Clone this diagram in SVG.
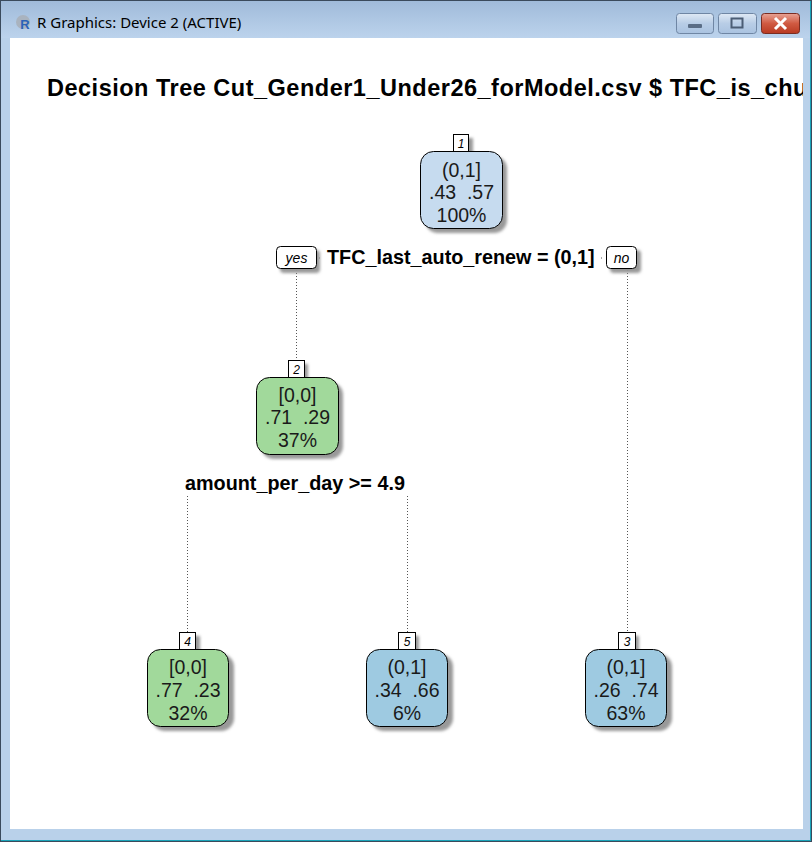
<svg xmlns="http://www.w3.org/2000/svg" width="812" height="842" viewBox="0 0 812 842">
<defs>
<linearGradient id="tb" x1="0" y1="0" x2="0" y2="1">
<stop offset="0" stop-color="#9fbad9"/>
<stop offset="1" stop-color="#bcd3ec"/>
</linearGradient>
<linearGradient id="btn" x1="0" y1="0" x2="0" y2="1">
<stop offset="0" stop-color="#dfe9f5"/>
<stop offset="0.5" stop-color="#b8cde6"/>
<stop offset="1" stop-color="#a9c2e0"/>
</linearGradient>
<linearGradient id="cls" x1="0" y1="0" x2="0" y2="1">
<stop offset="0" stop-color="#e8a496"/>
<stop offset="0.5" stop-color="#d05a42"/>
<stop offset="1" stop-color="#b83a22"/>
</linearGradient>
<clipPath id="client"><rect x="10" y="38" width="793" height="791"/></clipPath>
<filter id="sh" x="-20%" y="-20%" width="150%" height="150%"><feGaussianBlur stdDeviation="1.5"/></filter>
</defs>
<style>
.nodetext{font-family:"Liberation Sans",Arial,sans-serif;font-size:19.5px;fill:#1a1a1a;text-anchor:middle}
.split{font-family:"Liberation Sans",Arial,sans-serif;font-size:19.8px;font-weight:bold;fill:#000}
.num{font-family:"Liberation Sans",Arial,sans-serif;font-size:12px;font-style:italic;fill:#000;text-anchor:middle}
.yn{font-family:"Liberation Sans",Arial,sans-serif;font-size:14px;font-style:italic;fill:#000;text-anchor:middle}
.box{stroke:#000;stroke-width:1}
.shadow{fill:#999;filter:url(#sh)}
.conn{stroke:#555;stroke-width:1;stroke-dasharray:1 2;fill:none}
.blue1{fill:#c6dbef}
.green{fill:#a1d99b}
.blue2{fill:#9ecae1}
</style>
<!-- window frame -->
<rect x="0" y="0" width="812" height="842" fill="#b9d1ea"/>
<rect x="0" y="0" width="812" height="38" fill="url(#tb)"/>
<rect x="0.5" y="0.5" width="811" height="841" fill="none" stroke="#3a4a5c" stroke-width="1"/>
<line x1="1" y1="840.5" x2="811" y2="840.5" stroke="#1aa3b8" stroke-width="1"/>
<line x1="810.5" y1="1" x2="810.5" y2="841" stroke="#1aa3b8" stroke-width="1"/>
<rect x="10" y="38" width="793" height="791" fill="#ffffff"/>
<!-- title bar -->
<g id="titlebar">
<circle cx="23" cy="22" r="7" fill="#a9b3bf"/>
<text x="25" y="29" font-family="Liberation Sans,Arial,sans-serif" font-size="13" font-weight="bold" fill="#2a63b8" text-anchor="middle">R</text>
<text x="37" y="28" font-family="Noto Sans,Liberation Sans,Arial,sans-serif" font-size="15" fill="#000">R Graphics: Device 2 (ACTIVE)</text>
<rect x="676.5" y="13.5" width="37" height="20" rx="3" fill="url(#btn)" stroke="#6f86a4"/>
<rect x="688" y="24" width="14" height="4" rx="1" fill="#5a6d86"/>
<rect x="718.5" y="13.5" width="38" height="20" rx="3" fill="url(#btn)" stroke="#6f86a4"/>
<rect x="731.5" y="18.5" width="11" height="9" fill="none" stroke="#4b5d75" stroke-width="2"/>
<rect x="761.5" y="13.5" width="38" height="20" rx="3" fill="url(#cls)" stroke="#7a2d22"/>
<path d="M775 18 L786 29 M786 18 L775 29" stroke="#ffffff" stroke-width="3"/>
</g>
<g clip-path="url(#client)">
<text x="47" y="96" font-family="Liberation Sans,Arial,sans-serif" font-size="23.5" font-weight="bold" letter-spacing="0.5" fill="#000">Decision Tree Cut_Gender1_Under26_forModel.csv $ TFC_is_churn</text>
<!-- connectors -->
<g id="connectors">
<line class="conn" x1="296.5" y1="270" x2="296.5" y2="360"/>
<line class="conn" x1="627.5" y1="270" x2="627.5" y2="632"/>
<line class="conn" x1="187.5" y1="496" x2="187.5" y2="632"/>
<line class="conn" x1="407.5" y1="496" x2="407.5" y2="632"/>
<line class="conn" x1="319" y1="258" x2="321" y2="258"/>
<line class="conn" x1="601" y1="258" x2="603" y2="258"/>
</g>
<!-- split labels -->
<g id="split1">
<rect x="280" y="250" width="40" height="23" rx="4" class="shadow"/>
<rect x="276.5" y="246.5" width="40" height="22" rx="4" fill="#fff" class="box"/>
<text x="296.5" y="263" class="yn">yes</text>
<text x="327" y="264" class="split">TFC_last_auto_renew = (0,1]</text>
<rect x="610" y="250" width="31" height="23" rx="4" class="shadow"/>
<rect x="606.5" y="246.5" width="30" height="22" rx="4" fill="#fff" class="box"/>
<text x="621.5" y="263" class="yn">no</text>
</g>
<g id="split2">
<text x="185" y="490" class="split">amount_per_day &gt;= 4.9</text>
</g>
<!-- node 1 -->
<g id="node1">
<rect x="457" y="138" width="16" height="18" class="shadow"/>
<rect x="453.5" y="134.5" width="15" height="17" fill="#fff" class="box"/>
<text x="461" y="148" class="num">1</text>
<rect x="425" y="156" width="82" height="77" rx="13" class="shadow"/>
<rect x="420.5" y="151.5" width="82" height="77" rx="13" class="box blue1"/>
<text x="461.5" y="177" class="nodetext">(0,1]</text>
<text x="461.5" y="199" class="nodetext" xml:space="preserve">.43  .57</text>
<text x="461.5" y="222" class="nodetext">100%</text>
</g>
<!-- node 2 -->
<g id="node2">
<rect x="292" y="364" width="16" height="18" class="shadow"/>
<rect x="288.5" y="360.5" width="16" height="17" fill="#fff" class="box"/>
<text x="296.5" y="374" class="num">2</text>
<rect x="261" y="382" width="82" height="77" rx="13" class="shadow"/>
<rect x="256.5" y="377.5" width="82" height="77" rx="13" class="box green"/>
<text x="297.5" y="402" class="nodetext">[0,0]</text>
<text x="297.5" y="424" class="nodetext" xml:space="preserve">.71  .29</text>
<text x="297.5" y="447" class="nodetext">37%</text>
</g>
<!-- node 4 -->
<g id="node4">
<rect x="183" y="636" width="17" height="18" class="shadow"/>
<rect x="179.5" y="632.5" width="16" height="17" fill="#fff" class="box"/>
<text x="187.5" y="646" class="num">4</text>
<rect x="152" y="654" width="82" height="77" rx="13" class="shadow"/>
<rect x="147.5" y="649.5" width="81" height="77" rx="13" class="box green"/>
<text x="188" y="674" class="nodetext">[0,0]</text>
<text x="188" y="697" class="nodetext" xml:space="preserve">.77  .23</text>
<text x="188" y="720" class="nodetext">32%</text>
</g>
<!-- node 5 -->
<g id="node5">
<rect x="402" y="636" width="17" height="18" class="shadow"/>
<rect x="398.5" y="632.5" width="17" height="17" fill="#fff" class="box"/>
<text x="407" y="646" class="num">5</text>
<rect x="371" y="654" width="82" height="77" rx="13" class="shadow"/>
<rect x="366.5" y="649.5" width="81" height="77" rx="13" class="box blue2"/>
<text x="407" y="674" class="nodetext">(0,1]</text>
<text x="407" y="697" class="nodetext" xml:space="preserve">.34  .66</text>
<text x="407" y="720" class="nodetext">6%</text>
</g>
<!-- node 3 -->
<g id="node3">
<rect x="622" y="636" width="17" height="18" class="shadow"/>
<rect x="618.5" y="632.5" width="17" height="17" fill="#fff" class="box"/>
<text x="627" y="646" class="num">3</text>
<rect x="590" y="654" width="82" height="77" rx="13" class="shadow"/>
<rect x="585.5" y="649.5" width="81" height="77" rx="13" class="box blue2"/>
<text x="626" y="674" class="nodetext">(0,1]</text>
<text x="626" y="697" class="nodetext" xml:space="preserve">.26  .74</text>
<text x="626" y="720" class="nodetext">63%</text>
</g>
</g>
</svg>
